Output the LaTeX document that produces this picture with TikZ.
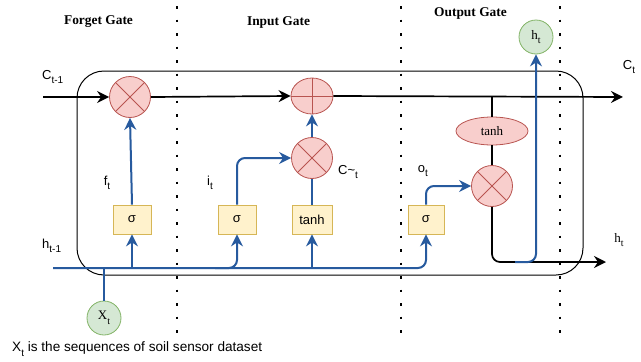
\documentclass[tikz,border=0pt]{standalone}
\usepackage{fontspec}
\setmainfont{Liberation Sans}
\newfontfamily\serifF{Liberation Serif}
\usetikzlibrary{arrows.meta,shapes.geometric}
\definecolor{redF}{HTML}{F8CECC}
\definecolor{redS}{HTML}{B85450}
\definecolor{yelF}{HTML}{FFF2CC}
\definecolor{yelS}{HTML}{D6B656}
\definecolor{grnF}{HTML}{D5E8D4}
\definecolor{grnS}{HTML}{82B366}
\definecolor{blu}{HTML}{275A9E}
\newcommand{\lsub}[1]{\raisebox{-0.35em}{\fontsize{10}{10}\selectfont #1}}
\tikzset{
  title/.style={font=\serifF\bfseries\fontsize{13.4}{15}\selectfont, inner sep=0},
  lbl/.style={font=\fontsize{13}{15}\selectfont, inner sep=0},
  slbl/.style={font=\serifF\fontsize{13}{15}\selectfont, inner sep=0},
  mulc/.style={circle, draw=redS, fill=redF, line width=0.8pt, minimum size=41pt, inner sep=0,
    path picture={\draw[redS, line width=0.8pt] (path picture bounding box.north west)--(path picture bounding box.south east)
      (path picture bounding box.north east)--(path picture bounding box.south west);}},
  addc/.style={ellipse, draw=redS, fill=redF, line width=0.8pt, minimum width=42pt, minimum height=36pt, inner sep=0,
    path picture={\draw[redS, line width=0.8pt] (path picture bounding box.north)--(path picture bounding box.south)
      (path picture bounding box.east)--(path picture bounding box.west);}},
  gbox/.style={rectangle, draw=yelS, fill=yelF, line width=0.8pt, minimum width=38pt, minimum height=29pt, inner sep=0, font=\fontsize{13}{15}\selectfont},
  gcirc/.style={circle, draw=grnS, fill=grnF, line width=0.8pt, minimum size=34pt, inner sep=0, font=\serifF\fontsize{13}{15}\selectfont},
  tanhe/.style={ellipse, draw=redS, fill=redF, line width=0.8pt, minimum width=72pt, minimum height=28pt, inner sep=0, font=\serifF\fontsize{13}{15}\selectfont},
  kline/.style={draw=black, line width=1.7pt},
  karrow/.style={kline, -{Stealth[length=12pt,width=12pt,inset=4pt]}},
  bline/.style={draw=blu, line width=2pt},
  barrow/.style={bline, -{Stealth[length=12pt,width=12pt,inset=4pt]}},
  sepdots/.style={draw=black, line width=2.6pt, dash pattern=on 2.6pt off 10.9pt},
}
\begin{document}
\begin{tikzpicture}[x=1pt,y=-1pt]
\useasboundingbox (0,0) rectangle (641,362);
% frame and separators
\draw[line width=1pt, draw=black] [rounded corners=27pt] (77,71) rectangle (583,275);
\draw[sepdots] (177,6) -- (177,337);
\draw[sepdots] (401,6) -- (401,337);
\draw[sepdots] (560,6) -- (560,337);
% titles
\node[title] (tf) at (98.5,22) {Forget Gate};
\node[title] (ti) at (278.5,22) {Input Gate};
\node[title] (to) at (470.5,13) {Output Gate};
% nodes
\node[mulc] (m1) at (130,97) {};
\node[addc] (pl) at (312,96) {};
\node[mulc] (m2) at (312,158) {};
\node[mulc] (m3) at (492,186) {};
\node[tanhe] (te) at (492,131) {tanh};
\node[gbox] (sf) at (132,219.5) {σ};
\node[gbox] (si) at (237,219.5) {σ};
\node[gbox, minimum width=40pt] (tb) at (312,219.5) {tanh};
\node[gbox, minimum width=36pt] (so) at (426,219.5) {σ};
\node[gcirc] (ht) at (536,37) {h\lsub{t}};
\node[gcirc] (xt) at (104,318) {X\lsub{t}};
% coordinates
\coordinate (cs) at (43,97);
\coordinate (ce) at (623,97);
\coordinate (hs) at (53,268);
\coordinate (he) at (606,262);
\coordinate (tap) at (492,97);
\coordinate (bj) at (515,262);
% cell state
\draw[karrow] (cs) -- (m1.west);
\draw[karrow] (m1.east) -- (pl.west);
\draw[karrow] (pl.east) -- (ce);
\draw[kline] (tap) -- (te.north);
\draw[kline] (te.south) -- (m3.north);
\draw[karrow, rounded corners=8pt] (m3.south) -- (m3.south |- he) -- (he);
\draw[barrow, rounded corners=8pt] (bj) -- (ht.south |- bj) -- (ht.south);
% hidden input
\draw[bline] (xt.north) -- (xt.north |- hs);
\draw[barrow, rounded corners=8pt] (hs) -- (so.south |- hs) -- (so.south);
\draw[barrow] (sf.south |- hs) -- (sf.south);
\draw[barrow, rounded corners=8pt] (215,268) -- (si.south |- hs) -- (si.south);
\draw[barrow] (tb.south |- hs) -- (tb.south);
% gates
\draw[barrow] (sf.north) -- (m1.south);
\draw[barrow, rounded corners=8pt] (si.north) |- (m2.west);
\draw[bline] (tb.north) -- (m2.south);
\draw[barrow] (m2.north) -- (pl.south);
\draw[barrow, rounded corners=8pt] (so.north) |- (m3.west);
% labels
\node[lbl, anchor=west] (lc) at (42,77) {C\lsub{t-1}};
\node[lbl] (lct) at (629,67) {C\lsub{t}};
\node[lbl, anchor=west] (lh) at (42,246) {h\lsub{t-1}};
\node[lbl] (lf) at (107,183) {f\lsub{t}};
\node[lbl] (li) at (210,183) {i\lsub{t}};
\node[lbl] (lcc) at (348,172) {C\textasciitilde\lsub{t}};
\node[lbl] (lo) at (423,171) {o\lsub{t}};
\node[slbl] (lht) at (619,240) {h\lsub{t}};
\node[lbl, anchor=west, font=\fontsize{13.6}{15}\selectfont] (cap) at (12,349) {X\lsub{t} is the sequences of soil sensor dataset};
\end{tikzpicture}
\end{document}
